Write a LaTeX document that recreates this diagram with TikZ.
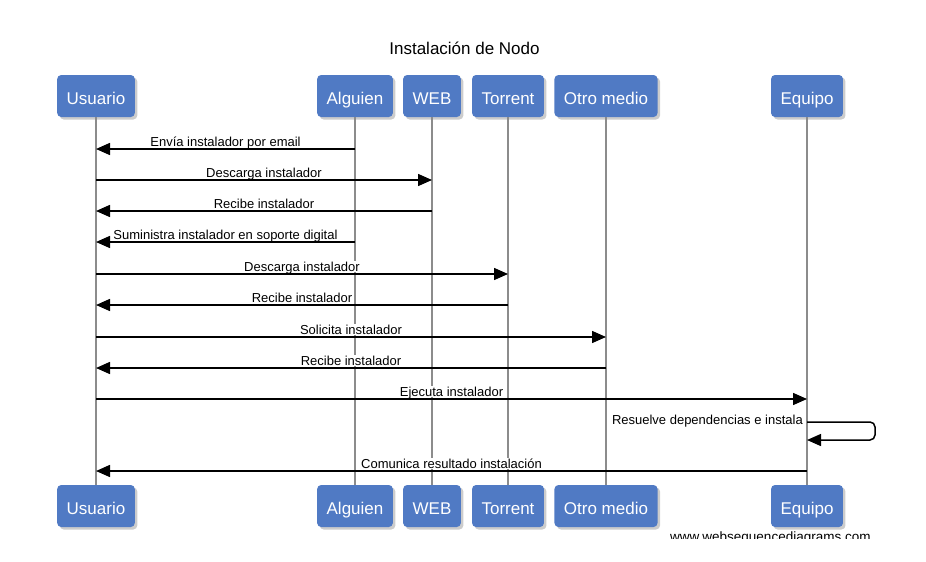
\documentclass[tikz,border=0pt]{standalone}
\usepackage{fontspec}
\setmainfont{Liberation Sans}
\usepackage{tikz}
\definecolor{boxblue}{RGB}{80,122,196}
\definecolor{lifegray}{RGB}{140,140,140}
\usetikzlibrary{arrows.meta}
\usetikzlibrary{shadows}

\begin{document}
\begin{tikzpicture}[
  actor/.style={rectangle, rounded corners=4pt, fill=boxblue, text=white, font=\fontsize{17}{20}\selectfont, inner xsep=9.5pt, minimum height=42pt, text height=16pt, text depth=0pt, drop shadow={shadow xshift=2.5pt, shadow yshift=-2.5pt, fill=black!40}},
  life/.style={line width=1.5pt, color=lifegray},
  msg/.style={line width=1.5pt, color=black, -{Triangle[length=14pt, width=12pt]}},
  lbl/.style={anchor=base, yshift=3pt, fill=white, inner xsep=1pt, inner ysep=0.5pt, text depth=0pt, font=\fontsize{13}{15}\selectfont}]
\useasboundingbox (0pt, 0pt) rectangle (926pt, -562pt);
\node (title) [font=\fontsize{17}{20}\selectfont] at (464.5pt, -48pt) {Instalación de Nodo};
% participants, top and bottom
\node (usu1) [actor] at (96pt, -96pt) {Usuario};
\node (alg1) [actor] at (355pt, -96pt) {Alguien};
\node (web1) [actor] at (432pt, -96pt) {WEB};
\node (tor1) [actor] at (508pt, -96pt) {Torrent};
\node (otr1) [actor] at (606pt, -96pt) {Otro medio};
\node (equ1) [actor] at (807pt, -96pt) {Equipo};
\node (usu2) [actor] at (96pt, -506pt) {Usuario};
\node (alg2) [actor] at (355pt, -506pt) {Alguien};
\node (web2) [actor] at (432pt, -506pt) {WEB};
\node (tor2) [actor] at (508pt, -506pt) {Torrent};
\node (otr2) [actor] at (606pt, -506pt) {Otro medio};
\node (equ2) [actor] at (807pt, -506pt) {Equipo};
\draw [life] (usu1) to (usu2);
\draw [life] (alg1) to (alg2);
\draw [life] (web1) to (web2);
\draw [life] (tor1) to (tor2);
\draw [life] (otr1) to (otr2);
\draw [life] (equ1) to (equ2);
% messages
\coordinate (m1a) at (355pt, -149pt);
\coordinate (m1b) at (96pt, -149pt);
\coordinate (m2a) at (96pt, -180pt);
\coordinate (m2b) at (432pt, -180pt);
\coordinate (m3a) at (432pt, -211pt);
\coordinate (m3b) at (96pt, -211pt);
\coordinate (m4a) at (355pt, -242pt);
\coordinate (m4b) at (96pt, -242pt);
\coordinate (m5a) at (96pt, -274pt);
\coordinate (m5b) at (508pt, -274pt);
\coordinate (m6a) at (508pt, -305pt);
\coordinate (m6b) at (96pt, -305pt);
\coordinate (m7a) at (96pt, -337pt);
\coordinate (m7b) at (606pt, -337pt);
\coordinate (m8a) at (606pt, -368pt);
\coordinate (m8b) at (96pt, -368pt);
\coordinate (m9a) at (96pt, -399pt);
\coordinate (m9b) at (807pt, -399pt);
\coordinate (s1) at (807pt, -422pt);
\coordinate (s2) at (807pt, -440pt);
\coordinate (m10a) at (807pt, -471pt);
\coordinate (m10b) at (96pt, -471pt);
\draw [msg] (m1a) to node [lbl] {Envía instalador por email} (m1b);
\draw [msg] (m2a) to node [lbl] {Descarga instalador} (m2b);
\draw [msg] (m3a) to node [lbl] {Recibe instalador} (m3b);
\draw [msg] (m4a) to node [lbl] {Suministra instalador en soporte digital} (m4b);
\draw [msg] (m5a) to node [lbl] {Descarga instalador} (m5b);
\draw [msg] (m6a) to node [lbl] {Recibe instalador} (m6b);
\draw [msg] (m7a) to node [lbl] {Solicita instalador} (m7b);
\draw [msg] (m8a) to node [lbl] {Recibe instalador} (m8b);
\draw [msg] (m9a) to node [lbl] {Ejecuta instalador} (m9b);
\draw [msg, rounded corners=5pt] (s1) -- ++(68pt, 0pt) |- (s2);
\node (selflbl) [lbl, anchor=base east, yshift=0pt] at (804pt, -427pt) {Resuelve dependencias e instala};
\draw [msg] (m10a) to node [lbl] {Comunica resultado instalación} (m10b);
% watermark, cut at the bottom
\begin{scope}
\clip (0pt, 0pt) rectangle (926pt, -538pt);
\node (wsd) [anchor=base west, inner sep=0pt, font=\fontsize{13.5}{15}\selectfont] at (670pt, -541pt) {www.websequencediagrams.com};
\end{scope}
\end{tikzpicture}
\end{document}
